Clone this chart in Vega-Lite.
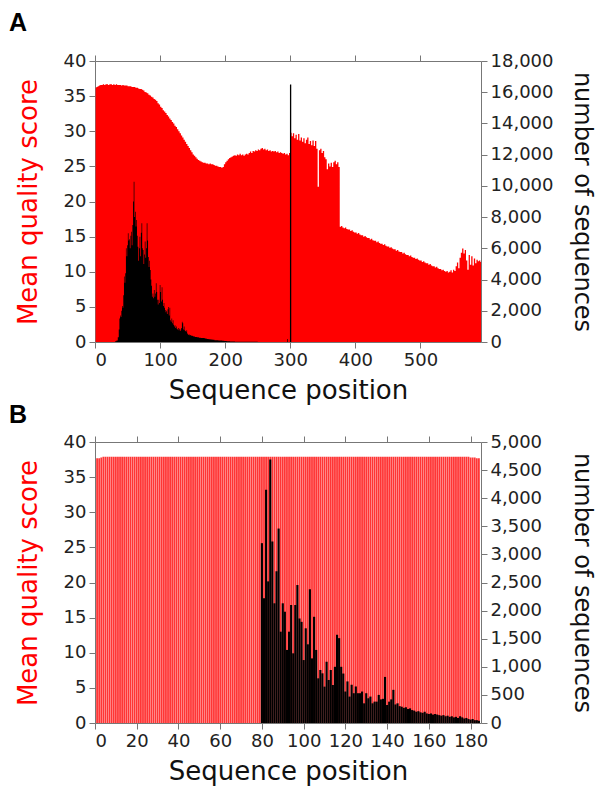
{
  "$schema": "https://vega.github.io/schema/vega-lite/v6.json",
  "padding": {"left": 9, "top": 11, "right": 2, "bottom": 2},
  "config": {
    "view": {"stroke": null},
    "font": "DejaVu Sans",
    "axis": {"labelFont": "DejaVu Sans", "labelFontSize": 18, "labelColor": "#222", "domainColor": "#777", "tickColor": "#777", "tickSize": 6, "grid": false, "titleFont": "DejaVu Sans", "titleFontSize": 26, "titleFontWeight": "normal", "titleColor": "#111", "labelPadding": 3},
    "title": {"font": "Liberation Sans", "fontSize": 25, "fontWeight": "bold", "anchor": "start", "frame": "group", "color": "#000"}
  },
  "datasets": {
    "qa": [
      {"pos":1,"q":36.2},{"pos":3,"q":36.3},{"pos":5,"q":36.4},{"pos":7,"q":36.5},{"pos":9,"q":36.6},{"pos":11,"q":36.6},{"pos":13,"q":36.7},{"pos":15,"q":36.6},{"pos":17,"q":36.7},{"pos":19,"q":36.7},
      {"pos":21,"q":36.6},{"pos":23,"q":36.7},{"pos":25,"q":36.7},{"pos":27,"q":36.6},{"pos":29,"q":36.7},{"pos":31,"q":36.6},{"pos":33,"q":36.7},{"pos":35,"q":36.6},{"pos":37,"q":36.6},{"pos":39,"q":36.6},
      {"pos":41,"q":36.5},{"pos":43,"q":36.6},{"pos":45,"q":36.5},{"pos":47,"q":36.5},{"pos":49,"q":36.5},{"pos":51,"q":36.4},{"pos":53,"q":36.4},{"pos":55,"q":36.4},{"pos":57,"q":36.3},{"pos":59,"q":36.3},
      {"pos":61,"q":36.3},{"pos":63,"q":36.2},{"pos":65,"q":36.2},{"pos":67,"q":36.1},{"pos":69,"q":36.0},{"pos":71,"q":36.0},{"pos":73,"q":35.9},{"pos":75,"q":35.8},{"pos":77,"q":35.6},{"pos":79,"q":35.5},
      {"pos":81,"q":35.4},{"pos":83,"q":35.2},{"pos":85,"q":35.1},{"pos":87,"q":34.9},{"pos":89,"q":34.8},{"pos":91,"q":34.6},{"pos":93,"q":34.5},{"pos":95,"q":34.3},{"pos":97,"q":34.0},{"pos":99,"q":33.8},
      {"pos":101,"q":33.5},{"pos":103,"q":33.3},{"pos":105,"q":33.0},{"pos":107,"q":32.8},{"pos":109,"q":32.6},{"pos":111,"q":32.3},{"pos":113,"q":32.1},{"pos":115,"q":31.8},{"pos":117,"q":31.6},{"pos":119,"q":31.3},
      {"pos":121,"q":31.1},{"pos":123,"q":30.8},{"pos":125,"q":30.6},{"pos":127,"q":30.3},{"pos":129,"q":30.0},{"pos":131,"q":29.7},{"pos":133,"q":29.4},{"pos":135,"q":29.1},{"pos":137,"q":28.8},{"pos":139,"q":28.5},
      {"pos":141,"q":28.2},{"pos":143,"q":27.9},{"pos":145,"q":27.6},{"pos":147,"q":27.3},{"pos":149,"q":27.0},{"pos":151,"q":26.7},{"pos":153,"q":26.5},{"pos":155,"q":26.3},{"pos":157,"q":26.1},{"pos":159,"q":25.9},
      {"pos":161,"q":25.8},{"pos":163,"q":25.7},{"pos":165,"q":25.6},{"pos":167,"q":25.5},{"pos":169,"q":25.5},{"pos":171,"q":25.4},{"pos":173,"q":25.4},{"pos":175,"q":25.3},{"pos":177,"q":25.4},{"pos":179,"q":25.3},
      {"pos":181,"q":25.3},{"pos":183,"q":25.2},{"pos":185,"q":25.1},{"pos":187,"q":25.1},{"pos":189,"q":25.0},{"pos":191,"q":24.9},{"pos":193,"q":24.9},{"pos":195,"q":24.8},{"pos":197,"q":24.9},{"pos":199,"q":25.3},
      {"pos":201,"q":25.6},{"pos":203,"q":25.8},{"pos":205,"q":26.0},{"pos":207,"q":26.2},{"pos":209,"q":26.3},{"pos":211,"q":26.4},{"pos":213,"q":26.5},{"pos":215,"q":26.6},{"pos":217,"q":26.5},{"pos":219,"q":26.7},
      {"pos":221,"q":26.6},{"pos":223,"q":26.8},{"pos":225,"q":26.6},{"pos":227,"q":26.7},{"pos":229,"q":26.5},{"pos":231,"q":26.7},{"pos":233,"q":26.8},{"pos":235,"q":26.7},{"pos":237,"q":26.9},{"pos":239,"q":27.1},
      {"pos":241,"q":26.9},{"pos":243,"q":27.2},{"pos":245,"q":27.1},{"pos":247,"q":27.3},{"pos":249,"q":27.2},{"pos":251,"q":27.4},{"pos":253,"q":27.3},{"pos":255,"q":27.5},{"pos":257,"q":27.6},{"pos":259,"q":27.4},
      {"pos":261,"q":27.5},{"pos":263,"q":27.3},{"pos":265,"q":27.4},{"pos":267,"q":27.2},{"pos":269,"q":27.3},{"pos":271,"q":27.1},{"pos":273,"q":27.2},{"pos":275,"q":27.1},{"pos":277,"q":27.2},{"pos":279,"q":27.0},
      {"pos":281,"q":27.1},{"pos":283,"q":26.9},{"pos":285,"q":27.0},{"pos":287,"q":26.9},{"pos":289,"q":26.8},{"pos":291,"q":26.9},{"pos":293,"q":26.7},{"pos":295,"q":26.8},{"pos":297,"q":26.6},{"pos":299,"q":26.9},
      {"pos":301,"q":29.8},{"pos":303,"q":29.3},{"pos":305,"q":29.7},{"pos":307,"q":29.0},{"pos":309,"q":29.5},{"pos":311,"q":28.8},{"pos":313,"q":29.6},{"pos":315,"q":28.7},{"pos":317,"q":29.1},{"pos":319,"q":28.5},
      {"pos":321,"q":29.0},{"pos":323,"q":28.3},{"pos":325,"q":28.8},{"pos":327,"q":29.1},{"pos":329,"q":28.2},{"pos":331,"q":28.6},{"pos":333,"q":28.0},{"pos":335,"q":28.7},{"pos":337,"q":27.9},{"pos":339,"q":28.6},
      {"pos":341,"q":27.5},{"pos":343,"q":22.1},{"pos":345,"q":27.3},{"pos":347,"q":27.5},{"pos":349,"q":26.9},{"pos":351,"q":27.2},{"pos":353,"q":26.3},{"pos":355,"q":26.0},{"pos":357,"q":24.6},{"pos":359,"q":25.4},
      {"pos":361,"q":25.0},{"pos":363,"q":25.5},{"pos":365,"q":24.9},{"pos":367,"q":25.6},{"pos":369,"q":25.8},{"pos":371,"q":25.3},{"pos":373,"q":25.6},{"pos":375,"q":24.9},{"pos":377,"q":16.4},{"pos":379,"q":16.5},
      {"pos":381,"q":16.3},{"pos":383,"q":16.2},{"pos":385,"q":16.3},{"pos":387,"q":16.1},{"pos":389,"q":16.0},{"pos":391,"q":16.0},{"pos":393,"q":15.8},{"pos":395,"q":15.9},{"pos":397,"q":15.7},{"pos":399,"q":15.6},
      {"pos":401,"q":15.6},{"pos":403,"q":15.4},{"pos":405,"q":15.5},{"pos":407,"q":15.3},{"pos":409,"q":15.2},{"pos":411,"q":15.2},{"pos":413,"q":15.0},{"pos":415,"q":15.1},{"pos":417,"q":14.9},{"pos":419,"q":14.8},
      {"pos":421,"q":14.8},{"pos":423,"q":14.6},{"pos":425,"q":14.7},{"pos":427,"q":14.5},{"pos":429,"q":14.4},{"pos":431,"q":14.4},{"pos":433,"q":14.2},{"pos":435,"q":14.3},{"pos":437,"q":14.1},{"pos":439,"q":14.0},
      {"pos":441,"q":14.0},{"pos":443,"q":13.8},{"pos":445,"q":13.9},{"pos":447,"q":13.7},{"pos":449,"q":13.6},{"pos":451,"q":13.6},{"pos":453,"q":13.4},{"pos":455,"q":13.5},{"pos":457,"q":13.3},{"pos":459,"q":13.2},
      {"pos":461,"q":13.2},{"pos":463,"q":13.0},{"pos":465,"q":13.1},{"pos":467,"q":12.9},{"pos":469,"q":12.8},{"pos":471,"q":12.8},{"pos":473,"q":12.6},{"pos":475,"q":12.7},{"pos":477,"q":12.5},{"pos":479,"q":12.4},
      {"pos":481,"q":12.4},{"pos":483,"q":12.2},{"pos":485,"q":12.3},{"pos":487,"q":12.1},{"pos":489,"q":12.0},{"pos":491,"q":12.0},{"pos":493,"q":11.8},{"pos":495,"q":11.9},{"pos":497,"q":11.7},{"pos":499,"q":11.6},
      {"pos":501,"q":11.6},{"pos":503,"q":11.4},{"pos":505,"q":11.5},{"pos":507,"q":11.3},{"pos":509,"q":11.2},{"pos":511,"q":11.2},{"pos":513,"q":11.0},{"pos":515,"q":11.1},{"pos":517,"q":10.9},{"pos":519,"q":10.8},
      {"pos":521,"q":10.8},{"pos":523,"q":10.6},{"pos":525,"q":10.7},{"pos":527,"q":10.5},{"pos":529,"q":10.4},{"pos":531,"q":10.4},{"pos":533,"q":10.2},{"pos":535,"q":10.3},{"pos":537,"q":10.1},{"pos":539,"q":10.0},
      {"pos":541,"q":10.1},{"pos":543,"q":9.9},{"pos":545,"q":10.0},{"pos":547,"q":10.2},{"pos":549,"q":9.9},{"pos":551,"q":10.3},{"pos":553,"q":10.1},{"pos":555,"q":10.8},{"pos":557,"q":11.3},{"pos":559,"q":10.5},
      {"pos":561,"q":12.0},{"pos":563,"q":12.7},{"pos":565,"q":13.3},{"pos":567,"q":12.6},{"pos":569,"q":13.1},{"pos":571,"q":11.6},{"pos":573,"q":10.3},{"pos":575,"q":12.4},{"pos":577,"q":11.0},{"pos":579,"q":12.2},
      {"pos":581,"q":10.9},{"pos":583,"q":11.9},{"pos":585,"q":11.2},{"pos":587,"q":11.7},{"pos":589,"q":11.5},{"pos":591,"q":11.6},{"pos":593,"q":11.4}
    ],
    "na": [
      {"pos":30,"n":0},{"pos":32,"n":50},{"pos":34,"n":100},{"pos":36,"n":300},{"pos":37,"n":800},{"pos":38,"n":1500},{"pos":39,"n":1700},{"pos":40,"n":1600},{"pos":41,"n":2000},{"pos":42,"n":2300},
      {"pos":43,"n":2200},{"pos":44,"n":3000},{"pos":45,"n":4200},{"pos":46,"n":3800},{"pos":47,"n":4400},{"pos":48,"n":6000},{"pos":49,"n":5500},{"pos":50,"n":6200},{"pos":51,"n":6960},{"pos":52,"n":6500},
      {"pos":53,"n":6580},{"pos":54,"n":6000},{"pos":55,"n":6800},{"pos":56,"n":7070},{"pos":57,"n":6200},{"pos":58,"n":7500},{"pos":59,"n":9000},{"pos":60,"n":10270},{"pos":61,"n":8000},{"pos":62,"n":8350},
      {"pos":63,"n":7400},{"pos":64,"n":7820},{"pos":65,"n":6800},{"pos":66,"n":6100},{"pos":67,"n":5200},{"pos":68,"n":6000},{"pos":69,"n":6740},{"pos":70,"n":5500},{"pos":71,"n":7000},{"pos":72,"n":7600},
      {"pos":73,"n":6000},{"pos":74,"n":5900},{"pos":75,"n":5000},{"pos":76,"n":5600},{"pos":77,"n":6430},{"pos":78,"n":5400},{"pos":79,"n":6000},{"pos":80,"n":7600},{"pos":81,"n":6500},{"pos":82,"n":5450},
      {"pos":83,"n":4800},{"pos":84,"n":5200},{"pos":85,"n":4610},{"pos":86,"n":4000},{"pos":87,"n":3600},{"pos":88,"n":2900},{"pos":89,"n":3100},{"pos":90,"n":2800},{"pos":91,"n":3330},{"pos":92,"n":2900},
      {"pos":93,"n":3100},{"pos":94,"n":3760},{"pos":95,"n":3200},{"pos":96,"n":2700},{"pos":97,"n":2400},{"pos":98,"n":2700},{"pos":99,"n":2500},{"pos":100,"n":3650},{"pos":101,"n":3200},{"pos":102,"n":2600},
      {"pos":103,"n":3500},{"pos":104,"n":2700},{"pos":105,"n":2300},{"pos":106,"n":2500},{"pos":107,"n":2200},{"pos":108,"n":2050},{"pos":109,"n":1900},{"pos":110,"n":2000},{"pos":111,"n":1800},{"pos":112,"n":2100},
      {"pos":113,"n":2250},{"pos":114,"n":1700},{"pos":115,"n":2200},{"pos":116,"n":1400},{"pos":117,"n":1300},{"pos":118,"n":1500},{"pos":119,"n":1200},{"pos":120,"n":1400},{"pos":121,"n":1100},{"pos":122,"n":1000},
      {"pos":123,"n":1080},{"pos":124,"n":900},{"pos":125,"n":1000},{"pos":126,"n":850},{"pos":127,"n":800},{"pos":128,"n":900},{"pos":129,"n":750},{"pos":130,"n":850},{"pos":131,"n":700},{"pos":132,"n":800},
      {"pos":133,"n":900},{"pos":134,"n":1300},{"pos":135,"n":1200},{"pos":136,"n":800},{"pos":137,"n":1000},{"pos":138,"n":760},{"pos":139,"n":700},{"pos":140,"n":650},{"pos":141,"n":760},{"pos":142,"n":550},
      {"pos":143,"n":500},{"pos":144,"n":450},{"pos":145,"n":480},{"pos":146,"n":420},{"pos":147,"n":450},{"pos":148,"n":400},{"pos":149,"n":420},{"pos":150,"n":380},{"pos":152,"n":350},{"pos":155,"n":320},
      {"pos":158,"n":300},{"pos":161,"n":280},{"pos":164,"n":260},{"pos":167,"n":250},{"pos":170,"n":230},{"pos":173,"n":200},{"pos":176,"n":180},{"pos":179,"n":160},{"pos":182,"n":140},{"pos":185,"n":120},
      {"pos":188,"n":110},{"pos":191,"n":100},{"pos":194,"n":90},{"pos":197,"n":80},{"pos":200,"n":70},{"pos":205,"n":50},{"pos":210,"n":30},{"pos":220,"n":20},{"pos":240,"n":10},{"pos":260,"n":0},
      {"pos":295,"n":0},{"pos":296,"n":200},{"pos":297,"n":0},{"pos":299,"n":0},{"pos":300,"n":16500},{"pos":301,"n":16500},{"pos":302,"n":0},{"pos":593,"n":0}
    ],
    "qb": [
      {"pos":1,"q":37.7},{"pos":2,"q":37.7},{"pos":3,"q":37.8},{"pos":4,"q":37.9},{"pos":5,"q":37.9},{"pos":6,"q":37.9},{"pos":7,"q":37.9},{"pos":8,"q":37.9},{"pos":9,"q":37.9},{"pos":10,"q":37.9},
      {"pos":11,"q":37.9},{"pos":12,"q":37.9},{"pos":13,"q":37.9},{"pos":14,"q":37.9},{"pos":15,"q":37.9},{"pos":16,"q":37.9},{"pos":17,"q":37.9},{"pos":18,"q":37.9},{"pos":19,"q":37.9},{"pos":20,"q":37.9},
      {"pos":21,"q":37.9},{"pos":22,"q":37.9},{"pos":23,"q":37.9},{"pos":24,"q":37.9},{"pos":25,"q":37.9},{"pos":26,"q":37.9},{"pos":27,"q":37.9},{"pos":28,"q":37.9},{"pos":29,"q":37.9},{"pos":30,"q":37.9},
      {"pos":31,"q":37.9},{"pos":32,"q":37.9},{"pos":33,"q":37.9},{"pos":34,"q":37.9},{"pos":35,"q":37.9},{"pos":36,"q":37.9},{"pos":37,"q":37.9},{"pos":38,"q":37.9},{"pos":39,"q":37.9},{"pos":40,"q":37.9},
      {"pos":41,"q":37.9},{"pos":42,"q":37.9},{"pos":43,"q":37.9},{"pos":44,"q":37.9},{"pos":45,"q":37.9},{"pos":46,"q":37.9},{"pos":47,"q":37.9},{"pos":48,"q":37.9},{"pos":49,"q":37.9},{"pos":50,"q":37.9},
      {"pos":51,"q":37.9},{"pos":52,"q":37.9},{"pos":53,"q":37.9},{"pos":54,"q":37.9},{"pos":55,"q":37.9},{"pos":56,"q":37.9},{"pos":57,"q":37.9},{"pos":58,"q":37.9},{"pos":59,"q":37.9},{"pos":60,"q":37.9},
      {"pos":61,"q":37.9},{"pos":62,"q":37.9},{"pos":63,"q":37.9},{"pos":64,"q":37.9},{"pos":65,"q":37.9},{"pos":66,"q":37.9},{"pos":67,"q":37.9},{"pos":68,"q":37.9},{"pos":69,"q":37.9},{"pos":70,"q":37.9},
      {"pos":71,"q":37.9},{"pos":72,"q":37.9},{"pos":73,"q":37.9},{"pos":74,"q":37.9},{"pos":75,"q":37.9},{"pos":76,"q":37.9},{"pos":77,"q":37.9},{"pos":78,"q":37.9},{"pos":79,"q":37.9},{"pos":80,"q":37.9},
      {"pos":81,"q":37.9},{"pos":82,"q":37.9},{"pos":83,"q":37.9},{"pos":84,"q":37.9},{"pos":85,"q":37.9},{"pos":86,"q":37.9},{"pos":87,"q":37.9},{"pos":88,"q":37.9},{"pos":89,"q":37.9},{"pos":90,"q":37.9},
      {"pos":91,"q":37.9},{"pos":92,"q":37.9},{"pos":93,"q":37.9},{"pos":94,"q":37.9},{"pos":95,"q":37.9},{"pos":96,"q":37.9},{"pos":97,"q":37.9},{"pos":98,"q":37.9},{"pos":99,"q":37.9},{"pos":100,"q":37.9},
      {"pos":101,"q":37.9},{"pos":102,"q":37.9},{"pos":103,"q":37.9},{"pos":104,"q":37.9},{"pos":105,"q":37.9},{"pos":106,"q":37.9},{"pos":107,"q":37.9},{"pos":108,"q":37.9},{"pos":109,"q":37.9},{"pos":110,"q":37.9},
      {"pos":111,"q":37.9},{"pos":112,"q":37.9},{"pos":113,"q":37.9},{"pos":114,"q":37.9},{"pos":115,"q":37.9},{"pos":116,"q":37.9},{"pos":117,"q":37.9},{"pos":118,"q":37.9},{"pos":119,"q":37.9},{"pos":120,"q":37.9},
      {"pos":121,"q":37.9},{"pos":122,"q":37.9},{"pos":123,"q":37.9},{"pos":124,"q":37.9},{"pos":125,"q":37.9},{"pos":126,"q":37.9},{"pos":127,"q":37.9},{"pos":128,"q":37.9},{"pos":129,"q":37.9},{"pos":130,"q":37.9},
      {"pos":131,"q":37.9},{"pos":132,"q":37.9},{"pos":133,"q":37.9},{"pos":134,"q":37.9},{"pos":135,"q":37.9},{"pos":136,"q":37.9},{"pos":137,"q":37.9},{"pos":138,"q":37.9},{"pos":139,"q":37.9},{"pos":140,"q":37.9},
      {"pos":141,"q":37.9},{"pos":142,"q":37.9},{"pos":143,"q":37.9},{"pos":144,"q":37.9},{"pos":145,"q":37.9},{"pos":146,"q":37.9},{"pos":147,"q":37.9},{"pos":148,"q":37.9},{"pos":149,"q":37.9},{"pos":150,"q":37.9},
      {"pos":151,"q":37.9},{"pos":152,"q":37.9},{"pos":153,"q":37.9},{"pos":154,"q":37.9},{"pos":155,"q":37.9},{"pos":156,"q":37.9},{"pos":157,"q":37.9},{"pos":158,"q":37.9},{"pos":159,"q":37.9},{"pos":160,"q":37.9},
      {"pos":161,"q":37.9},{"pos":162,"q":37.9},{"pos":163,"q":37.9},{"pos":164,"q":37.9},{"pos":165,"q":37.9},{"pos":166,"q":37.9},{"pos":167,"q":37.9},{"pos":168,"q":37.9},{"pos":169,"q":37.9},{"pos":170,"q":37.9},
      {"pos":171,"q":37.9},{"pos":172,"q":37.9},{"pos":173,"q":37.9},{"pos":174,"q":37.9},{"pos":175,"q":37.9},{"pos":176,"q":37.9},{"pos":177,"q":37.9},{"pos":178,"q":37.9},{"pos":179,"q":37.9},{"pos":180,"q":37.8},
      {"pos":181,"q":37.8},{"pos":182,"q":37.8},{"pos":183,"q":37.7},{"pos":184,"q":37.7}
    ],
    "nb": [
      {"pos":80,"n":3200},{"pos":81,"n":2220},{"pos":82,"n":4150},{"pos":83,"n":2520},{"pos":84,"n":4690},{"pos":85,"n":3230},{"pos":86,"n":2130},{"pos":87,"n":2700},{"pos":88,"n":3460},{"pos":89,"n":1625},
      {"pos":90,"n":2130},{"pos":91,"n":1980},{"pos":92,"n":1300},{"pos":93,"n":1625},{"pos":94,"n":2100},{"pos":95,"n":1240},{"pos":96,"n":2100},{"pos":97,"n":2455},{"pos":98,"n":1860},{"pos":99,"n":1800},
      {"pos":100,"n":1120},{"pos":101,"n":1685},{"pos":102,"n":1400},{"pos":103,"n":2380},{"pos":104,"n":1150},{"pos":105,"n":1890},{"pos":106,"n":1300},{"pos":107,"n":795},{"pos":108,"n":943},{"pos":109,"n":884},
      {"pos":110,"n":647},{"pos":111,"n":1090},{"pos":112,"n":765},{"pos":113,"n":943},{"pos":114,"n":676},{"pos":115,"n":1000},{"pos":116,"n":1570},{"pos":117,"n":1510},{"pos":118,"n":1000},{"pos":119,"n":880},
      {"pos":120,"n":560},{"pos":121,"n":740},{"pos":122,"n":470},{"pos":123,"n":680},{"pos":124,"n":530},{"pos":125,"n":650},{"pos":126,"n":530},{"pos":127,"n":530},{"pos":128,"n":560},{"pos":129,"n":350},
      {"pos":130,"n":530},{"pos":131,"n":440},{"pos":132,"n":470},{"pos":133,"n":350},{"pos":134,"n":380},{"pos":135,"n":380},{"pos":136,"n":500},{"pos":137,"n":420},{"pos":138,"n":430},{"pos":139,"n":820},
      {"pos":140,"n":320},{"pos":141,"n":380},{"pos":142,"n":420},{"pos":143,"n":590},{"pos":144,"n":330},{"pos":145,"n":350},{"pos":146,"n":300},{"pos":147,"n":290},{"pos":148,"n":270},{"pos":149,"n":280},
      {"pos":150,"n":250},{"pos":151,"n":260},{"pos":152,"n":230},{"pos":153,"n":220},{"pos":154,"n":200},{"pos":155,"n":210},{"pos":156,"n":190},{"pos":157,"n":180},{"pos":158,"n":200},{"pos":159,"n":170},
      {"pos":160,"n":160},{"pos":161,"n":170},{"pos":162,"n":150},{"pos":163,"n":160},{"pos":164,"n":150},{"pos":165,"n":140},{"pos":166,"n":130},{"pos":167,"n":140},{"pos":168,"n":120},{"pos":169,"n":130},
      {"pos":170,"n":110},{"pos":171,"n":120},{"pos":172,"n":100},{"pos":173,"n":110},{"pos":174,"n":90},{"pos":175,"n":120},{"pos":176,"n":100},{"pos":177,"n":80},{"pos":178,"n":90},{"pos":179,"n":70},
      {"pos":180,"n":60},{"pos":181,"n":70},{"pos":182,"n":50},{"pos":183,"n":50},{"pos":184,"n":40}
    ]
  },
  "bounds": "flush",
  "spacing": 100,
  "vconcat": [
    {
      "width": 386, "height": 281,
      "title": {"text": "A", "dx": -86, "offset": 16},
      "resolve": {"scale": {"y": "independent"}, "axis": {"x": "independent", "y": "independent"}},
      "layer": [
        {
          "data": {"name": "qa"},
          "mark": {"type": "area", "interpolate": "step", "color": "#ff0000"},
          "encoding": {
            "x": {"field": "pos", "type": "quantitative", "scale": {"domain": [0, 593], "nice": false, "zero": false}, "axis": {"values": [0, 100, 200, 300, 400, 500], "title": "Sequence position", "titlePadding": 8}},
            "y": {"field": "q", "type": "quantitative", "scale": {"domain": [0, 40], "nice": false}, "axis": {"values": [0, 5, 10, 15, 20, 25, 30, 35, 40], "title": "Mean quality score", "titleColor": "#ff0000", "titlePadding": 21, "minExtent": 33, "maxExtent": 33}}
          }
        },
        {
          "data": {"name": "na"},
          "mark": {"type": "area", "interpolate": "step", "color": "#000000"},
          "encoding": {
            "x": {"field": "pos", "type": "quantitative", "scale": {"domain": [0, 593], "nice": false, "zero": false}, "axis": {"orient": "top", "values": [0, 100, 200, 300, 400, 500], "labels": false, "title": null}},
            "y": {"field": "n", "type": "quantitative", "scale": {"domain": [0, 18000], "nice": false}, "axis": {"orient": "right", "values": [0, 2000, 4000, 6000, 8000, 10000, 12000, 14000, 16000, 18000], "format": ",.0f", "title": "number of sequences", "titleFontSize": 24, "titlePadding": 16, "minExtent": 72, "maxExtent": 72}}
          }
        }
      ]
    },
    {
      "width": 386, "height": 281,
      "title": {"text": "B", "dx": -86, "offset": 5},
      "resolve": {"scale": {"y": "independent"}, "axis": {"x": "independent", "y": "independent"}},
      "layer": [
        {
          "data": {"name": "qb"},
          "mark": {"type": "bar", "color": "#ff3535", "width": 1.8},
          "encoding": {
            "x": {"field": "pos", "type": "quantitative", "scale": {"domain": [0, 185], "nice": false, "zero": false, "padding": 0}, "axis": {"values": [0, 20, 40, 60, 80, 100, 120, 140, 160, 180], "title": "Sequence position", "titlePadding": 8}},
            "y": {"field": "q", "type": "quantitative", "scale": {"domain": [0, 40], "nice": false}, "axis": {"values": [0, 5, 10, 15, 20, 25, 30, 35, 40], "title": "Mean quality score", "titleColor": "#ff0000", "titlePadding": 21, "minExtent": 33, "maxExtent": 33}}
          }
        },
        {
          "data": {"name": "nb"},
          "mark": {"type": "bar", "color": "#000000", "width": 2.1},
          "encoding": {
            "x": {"field": "pos", "type": "quantitative", "scale": {"domain": [0, 185], "nice": false, "zero": false, "padding": 0}, "axis": {"orient": "top", "values": [0, 20, 40, 60, 80, 100, 120, 140, 160, 180], "labels": false, "title": null}},
            "y": {"field": "n", "type": "quantitative", "scale": {"domain": [0, 5000], "nice": false}, "axis": {"orient": "right", "values": [0, 500, 1000, 1500, 2000, 2500, 3000, 3500, 4000, 4500, 5000], "format": ",.0f", "title": "number of sequences", "titleFontSize": 24, "titlePadding": 16, "minExtent": 72, "maxExtent": 72}}
          }
        }
      ]
    }
  ]
}
